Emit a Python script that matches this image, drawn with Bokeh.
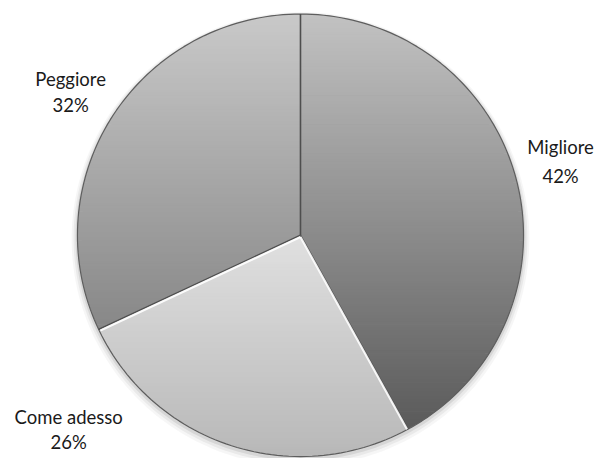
import math
from bokeh.plotting import figure
from bokeh.models import Range1d
from bokeh.core.properties import value
from bokeh.embed import file_html
from bokeh.resources import INLINE

# ---- data ----
categories = ["Migliore", "Come adesso", "Peggiore"]
percent = [42, 26, 32]

# ---- style / layout (reference pixel frame 615x474, y measured upward) ----
W, H = 599, 458
REF_W, REF_H = 615, 474
CX, CY, R = 308, REF_H - 243, 229
top_col = ["#c2c2c2", "#e0e0e0", "#c9c9c9"]
bot_col = ["#5a5a5a", "#b8b8b8", "#878787"]
label_xy = [(575, 152, 182), (70, 431, 457), (72, 81, 108)]  # x, y name, y pct (downward)
FONT = "Lato"
FSIZE = "18.5px"

p = figure(width=W, height=H, output_backend="svg", toolbar_location=None,
           x_range=Range1d(0, REF_W), y_range=Range1d(0, REF_H),
           min_border=0, outline_line_color=None)
p.axis.visible = False
p.grid.visible = False
p.background_fill_color = "white"
p.border_fill_color = "white"


def hex2rgb(h):
    return tuple(int(h[i:i + 2], 16) for i in (1, 3, 5))


def mix(c0, c1, t):
    a, b = hex2rgb(c0), hex2rgb(c1)
    return "#%02x%02x%02x" % tuple(int(round(a[i] + (b[i] - a[i]) * t)) for i in range(3))


def arc_pts(a0, a1, r, cx=CX, cy=CY, n=240):
    k = max(2, int(abs(a1 - a0) / (2 * math.pi) * n))
    return [(cx + r * math.cos(a0 + (a1 - a0) * i / k), cy + r * math.sin(a0 + (a1 - a0) * i / k))
            for i in range(k + 1)]


def clip_half(poly, yv, keep_above):
    out = []
    n = len(poly)
    for i in range(n):
        P, Q = poly[i], poly[(i + 1) % n]
        pin = (P[1] >= yv) if keep_above else (P[1] <= yv)
        qin = (Q[1] >= yv) if keep_above else (Q[1] <= yv)
        if pin:
            out.append(P)
        if pin != qin:
            t = (yv - P[1]) / (Q[1] - P[1])
            out.append((P[0] + t * (Q[0] - P[0]), yv))
    return out


# soft shadow under pie
for dr, dy, al in [(6, -4, 0.035), (4, -3, 0.05), (2, -2, 0.08)]:
    ring = arc_pts(0, 2 * math.pi, R + dr, CX, CY + dy)
    p.patch(x=[q[0] for q in ring], y=[q[1] for q in ring], fill_color="black",
            fill_alpha=al, line_color=None)

# slices (clockwise from the top)
total = sum(percent)
start = math.pi / 2
angles = []
for v in percent:
    end = start - 2 * math.pi * v / total
    angles.append((start, end))
    start = end

p.wedge(x=[CX] * 3, y=[CY] * 3, radius=R - 4,
        start_angle=[a[1] for a in angles], end_angle=[a[0] for a in angles],
        fill_color=[mix(t, b, 0.5) for t, b in zip(top_col, bot_col)], line_color=None)

# vertical gradient bands inside each slice
xs, ys, cols = [], [], []
step = 3
for i, (a0, a1) in enumerate(angles):
    poly = [(CX, CY)] + arc_pts(a0, a1, R)
    ymax = max(q[1] for q in poly)
    ymin = min(q[1] for q in poly)
    yb = ymax
    while yb > ymin:
        lo = max(ymin, yb - step - 0.7)
        piece = clip_half(clip_half(poly, yb, False), lo, True)
        if len(piece) >= 3:
            t = (ymax - (yb - step / 2)) / (ymax - ymin)
            xs.append([q[0] for q in piece])
            ys.append([q[1] for q in piece])
            cols.append(mix(top_col[i], bot_col[i], min(max(t, 0), 1)))
        yb -= step
p.patches(xs=xs, ys=ys, fill_color=cols, line_color=None)

# rim outline
rim = arc_pts(0, 2 * math.pi, R)
p.line(x=[q[0] for q in rim], y=[q[1] for q in rim], line_color="#5e5e5e", line_width=1.2)

# radial separators
for (a0, a1) in angles:
    p.line(x=[CX, CX + R * math.cos(a0)], y=[CY, CY + R * math.sin(a0)],
           line_color="#4e4e4e", line_width=1.6)

# highlight on the light slice's edges
a0, a1 = angles[1]
for a in (a0, a1):
    p.line(x=[CX, CX + (R - 2) * math.cos(a)], y=[CY - 1.8, CY - 1.8 + (R - 2) * math.sin(a)],
           line_color="white", line_width=2.2, line_alpha=0.9)

# labels
for i, name in enumerate(categories):
    x, yn, yp = label_xy[i]
    p.text(x=[x], y=[REF_H - yn], text=[name], text_font=value(FONT), text_font_size=FSIZE,
           text_align="center", text_baseline="middle", text_color="#1a1a1a")
    p.text(x=[x], y=[REF_H - yp], text=["%d%%" % percent[i]], text_font=value(FONT),
           text_font_size=FSIZE, text_align="center", text_baseline="middle", text_color="#1a1a1a")

open("out.html", "w").write(file_html(p, INLINE))
